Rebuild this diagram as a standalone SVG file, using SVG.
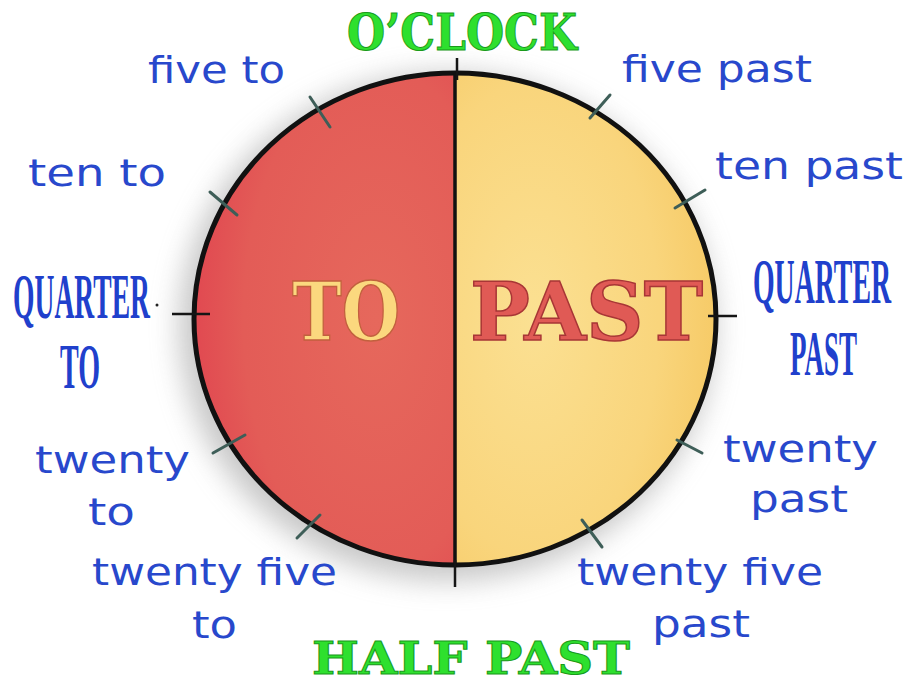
<svg xmlns="http://www.w3.org/2000/svg" width="910" height="681" viewBox="0 0 910 681">
<defs>
<style>
.lbl{font-family:"DejaVu Sans","Liberation Sans",sans-serif;font-size:38px;fill:#2848cc;}
.cond{font-family:"Liberation Serif","DejaVu Serif",serif;font-weight:bold;font-size:64px;fill:#2040cc;}
.green{font-family:"DejaVu Serif","Liberation Serif",serif;font-weight:bold;fill:#2ee02e;stroke:#1a9a1a;stroke-width:1;}
.tick{stroke:#3e5e58;stroke-width:3;stroke-linecap:round;}
.btick{stroke:#151515;stroke-width:2.5;}
</style>
<radialGradient id="redg" cx="0.7" cy="0.5" r="0.85">
<stop offset="0" stop-color="#e6685c"/>
<stop offset="0.6" stop-color="#e35c57"/>
<stop offset="1" stop-color="#df3a4c"/>
</radialGradient>
<radialGradient id="yelg" cx="0.3" cy="0.5" r="0.8">
<stop offset="0" stop-color="#fbe092"/>
<stop offset="0.6" stop-color="#f9d57c"/>
<stop offset="1" stop-color="#f5c65e"/>
</radialGradient>
<filter id="blur" x="-30%" y="-30%" width="160%" height="160%">
<feGaussianBlur stdDeviation="14"/>
</filter>
</defs>
<rect width="910" height="681" fill="#ffffff"/>

<g id="face">
<ellipse cx="447" cy="327" rx="268" ry="254" fill="#9a9a9a" opacity="0.55" filter="url(#blur)"/>
<path d="M455,73 A261,246 0 0 0 455,565 Z" fill="url(#redg)"/>
<path d="M455,73 A261,246 0 0 1 455,565 Z" fill="url(#yelg)"/>
<ellipse cx="455" cy="319" rx="261" ry="246" fill="none" stroke="#111" stroke-width="5"/>
<line x1="455" y1="73" x2="455" y2="565" stroke="#111" stroke-width="3.5"/>
</g>

<g id="ticks">
<line class="btick" x1="457" y1="58" x2="457" y2="80"/>
<line class="btick" x1="455" y1="560" x2="455" y2="587"/>
<line class="btick" x1="172" y1="314" x2="210" y2="314"/>
<line class="btick" x1="708" y1="316" x2="737" y2="316"/>
<line class="tick" x1="590" y1="118" x2="610" y2="95"/>
<line class="tick" x1="675" y1="208" x2="705" y2="190"/>
<line class="tick" x1="677" y1="440" x2="702" y2="453"/>
<line class="tick" x1="582" y1="520" x2="602" y2="547"/>
<line class="tick" x1="310" y1="97" x2="330" y2="127"/>
<line class="tick" x1="210" y1="192" x2="237" y2="215"/>
<line class="tick" x1="213" y1="453" x2="245" y2="435"/>
<line class="tick" x1="297" y1="538" x2="320" y2="515"/>
</g>

<g id="to-label">
<text x="292" y="340" textLength="108" lengthAdjust="spacingAndGlyphs" font-family="DejaVu Serif, Liberation Serif, serif" font-weight="bold" font-size="80" fill="#fbd87e" stroke="#c2603e" stroke-width="1.5">TO</text>
</g>
<g id="past-label">
<text x="470" y="340" textLength="233" lengthAdjust="spacingAndGlyphs" font-family="DejaVu Serif, Liberation Serif, serif" font-weight="bold" font-size="80" fill="#e05a55" stroke="#a83636" stroke-width="1.5">PAST</text>
</g>

<g id="oclock">
<text class="green" x="347" y="50" textLength="230" lengthAdjust="spacingAndGlyphs" font-size="51">O’CLOCK</text>
</g>
<g id="halfpast">
<text class="green" x="312" y="674" textLength="318" lengthAdjust="spacingAndGlyphs" font-size="45">HALF PAST</text>
</g>

<g id="five-to"><text class="lbl" x="148" y="83" textLength="137" lengthAdjust="spacingAndGlyphs">five to</text></g>
<g id="ten-to"><text class="lbl" x="28" y="186" textLength="138" lengthAdjust="spacingAndGlyphs">ten to</text></g>
<g id="quarter-to">
<text class="cond" x="13" y="318" textLength="137" lengthAdjust="spacingAndGlyphs">QUARTER</text>
<text class="cond" x="60" y="388" textLength="40" lengthAdjust="spacingAndGlyphs">TO</text>
<circle cx="157" cy="305" r="1.5" fill="#222"/>
</g>
<g id="twenty-to">
<text class="lbl" x="35" y="473" textLength="155" lengthAdjust="spacingAndGlyphs">twenty</text>
<text class="lbl" x="88" y="525" textLength="47" lengthAdjust="spacingAndGlyphs">to</text>
</g>
<g id="twenty-five-to">
<text class="lbl" x="92" y="585" textLength="245" lengthAdjust="spacingAndGlyphs">twenty five</text>
<text class="lbl" x="192" y="638" textLength="45" lengthAdjust="spacingAndGlyphs">to</text>
</g>

<g id="five-past"><text class="lbl" x="622" y="82" textLength="190" lengthAdjust="spacingAndGlyphs">five past</text></g>
<g id="ten-past"><text class="lbl" x="715" y="179" textLength="188" lengthAdjust="spacingAndGlyphs">ten past</text></g>
<g id="quarter-past">
<text class="cond" x="753" y="303" textLength="138" lengthAdjust="spacingAndGlyphs">QUARTER</text>
<text class="cond" x="790" y="375" textLength="67" lengthAdjust="spacingAndGlyphs">PAST</text>
</g>
<g id="twenty-past">
<text class="lbl" x="723" y="462" textLength="155" lengthAdjust="spacingAndGlyphs">twenty</text>
<text class="lbl" x="750" y="512" textLength="98" lengthAdjust="spacingAndGlyphs">past</text>
</g>
<g id="twenty-five-past">
<text class="lbl" x="577" y="585" textLength="246" lengthAdjust="spacingAndGlyphs">twenty five</text>
<text class="lbl" x="652" y="637" textLength="98" lengthAdjust="spacingAndGlyphs">past</text>
</g>
</svg>
